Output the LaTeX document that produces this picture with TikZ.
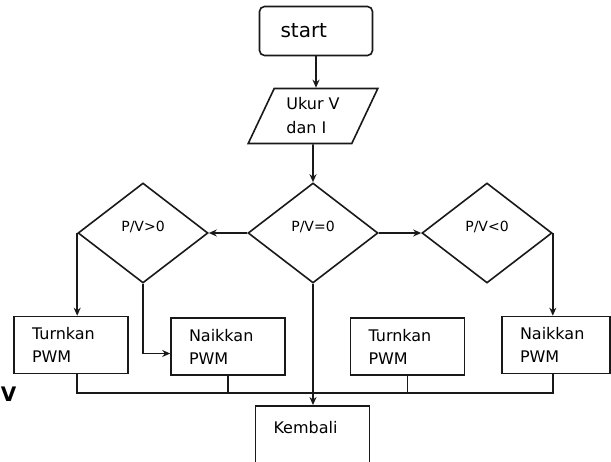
\documentclass[tikz,border=0pt]{standalone}
\usepackage{fontspec}
\usepackage{tikz}
\usetikzlibrary{shapes.geometric, arrows.meta, positioning, calc}
\newfontfamily\flowfont{DejaVu Sans}
\definecolor{flowdark}{RGB}{25,25,25}
\tikzset{
  startbox/.style={rectangle, draw=flowdark, rounded corners=5pt,
    text width=71pt, inner xsep=21pt, align=left, minimum height=49pt,
    font=\flowfont\fontsize{20}{24}\selectfont, line width=1.6pt},
  iobox/.style={trapezium, draw=flowdark, trapezium left angle=65,
    trapezium right angle=115, trapezium stretches=true,
    minimum width=131pt, minimum height=55pt, align=left,
    font=\flowfont\fontsize{16}{24}\selectfont, line width=1.6pt},
  decision/.style={diamond, draw=flowdark, minimum width=130pt,
    minimum height=100pt, inner sep=0pt, text depth=14pt,
    font=\flowfont\fontsize{14}{16}\selectfont, line width=1.6pt},
  procbox/.style={rectangle, draw=flowdark, text width=78pt,
    inner xsep=18pt, align=left, minimum height=57pt,
    font=\flowfont\fontsize{16}{23}\selectfont, line width=1.6pt},
  arrow/.style={-{Stealth[length=8pt,width=7pt]}, line width=1.6pt, color=flowdark},
  line/.style={line width=1.6pt, color=flowdark}
}
\begin{document}
\begin{tikzpicture}[x=1pt, y=-1pt]
  \useasboundingbox[fill=white] (0,0) rectangle (611,461);
  \clip (0,0) rectangle (611,461);

  % --- top of the chart ---
  \node[startbox] (start) at (316,31) {start};
  \node[iobox] (ukur) at (313,116) {Ukur V\\dan I};

  % --- decisions ---
  \node[decision] (dmid) at (313,233) {P/V=0};
  \node[decision] (dleft) at (143,233) {P/V>0};
  \node[decision] (dright) at (487,233) {P/V<0};

  % --- actions ---
  \node[procbox] (turnL) at (71,345) {Turnkan\\PWM};
  \node[procbox] (naikL) at (228,346.5) {Naikkan\\PWM};
  \node[procbox] (turnR) at (407.5,346.5) {Turnkan\\PWM};
  \node[procbox, text width=72pt] (naikR) at (556,345) {Naikkan\\PWM};
  \node[procbox, anchor=north, text height=12pt, text depth=50pt,
        inner ysep=16pt] (kembali) at (312.5,405) {Kembali};

  \node[font=\flowfont\bfseries\fontsize{20}{20}\selectfont, inner sep=0pt] (strayv) at (8.5,394) {V};

  \coordinate (bus) at (0,393);

  % --- connectors ---
  \draw[arrow] (start.south) -- (start.south |- ukur.north);
  \draw[arrow] (ukur.south) -- (dmid.north);
  \draw[arrow] (dmid.west) -- (dleft.east);
  \draw[arrow] (dmid.east) -- (dright.west);
  \draw[arrow] (dleft.west) -- (dleft.west |- turnL.north);
  \draw[arrow] (dleft.south) |- ([yshift=-7pt]naikL.west);
  \draw[arrow] (dright.east) -- (dright.east |- naikR.north);

  % collecting line under the actions
  \draw[line] (dleft.west |- turnL.south) |- (dright.east |- bus) -- (dright.east |- naikR.south);
  \draw[line] (naikL.south) -- (naikL.south |- bus);
  \draw[line] (turnR.south) -- (turnR.south |- bus);

  \draw[arrow] (dmid.south) -- (dmid.south |- kembali.north);
\end{tikzpicture}
\end{document}
